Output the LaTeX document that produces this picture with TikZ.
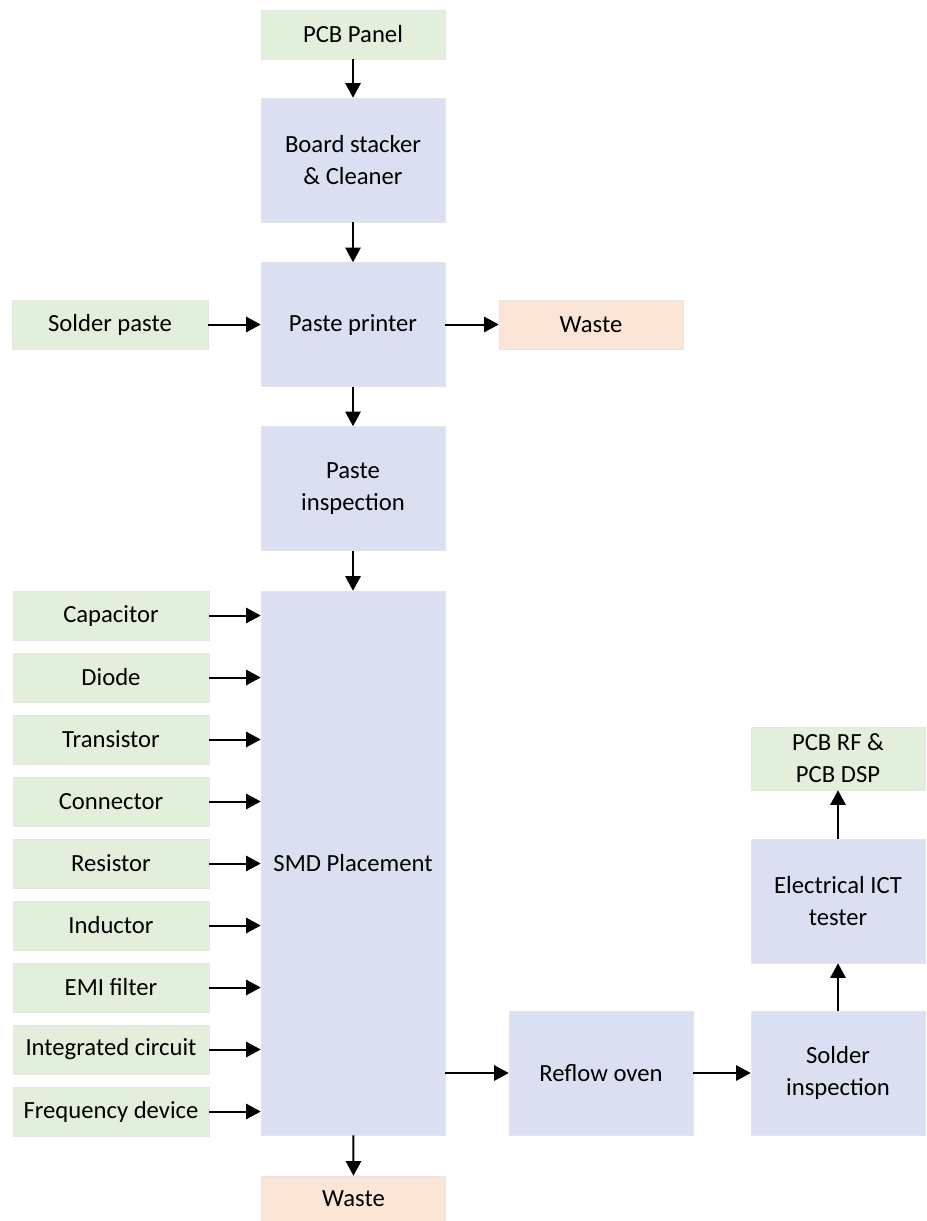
\documentclass[tikz,border=0pt]{standalone}
\usepackage{fontspec}
\setmainfont{Carlito}
\usepackage{tikz}
\usetikzlibrary{shapes,arrows.meta}
\definecolor{stepgreen}{HTML}{E2EFDA}
\definecolor{stepblue}{HTML}{DAE0F2}
\definecolor{steppeach}{HTML}{FBE5D6}

\tikzset{
  box/.style={draw=black!10, line width=0.4pt, align=center, inner sep=2pt,
    font=\fontsize{18.5}{24}\selectfont},
  machine/.style={box, fill=stepblue, minimum width=138pt, minimum height=93pt},
  supply/.style={box, fill=stepgreen, minimum width=147pt, minimum height=36.75pt},
  waste/.style={box, fill=steppeach, minimum width=138pt, minimum height=36.75pt},
  flow/.style={line width=1.5pt, -{Triangle[length=11pt,width=11.5pt]}},
}

\begin{document}
\begin{tikzpicture}[x=0.75pt, y=-0.75pt]
  \useasboundingbox (0,0) rectangle (926,1221);

  % main line
  \node[supply, minimum width=138pt] (panel) at (353,34.5) {PCB Panel};
  \node[machine] (stacker) at (353,160) {Board stacker\\\& Cleaner};
  \node[machine] (printer) at (353,324.5) {Paste printer};
  \node[supply] (paste) at (110,324.5) {Solder paste};
  \node[waste] (waste1) at (591,324.5) {Waste};
  \node[machine] (pinsp) at (353,488.5) {Paste\\inspection};
  \node[machine, minimum height=408pt] (smd) at (353,863) {SMD Placement};
  \node[waste, minimum height=33.75pt] (waste2) at (353.5,1198.5) {Waste};

  % components
  \foreach \part [count=\i] in {Capacitor, Diode, Transistor, Connector, Resistor,
      Inductor, EMI filter, Integrated circuit, Frequency device}
  {
    \node[supply] (c\i) at (111,553.5+62*\i) {\part};
    \draw[flow] (c\i.east) -- (c\i.east -| smd.west);
  }

  % back end
  \node[machine] (reflow) at (601,1073) {Reflow oven};
  \node[machine, minimum width=130.5pt] (sinsp) at (838,1073) {Solder\\inspection};
  \node[machine, minimum width=130.5pt] (ict) at (838,901) {Electrical ICT\\tester};
  \node[supply, minimum width=130.5pt, minimum height=47.25pt] (out) at (838,758.5) {PCB RF \&\\PCB DSP};

  % arrows
  \draw[flow] (panel) -- (stacker);
  \draw[flow] (stacker) -- (printer);
  \draw[flow] (paste) -- (printer);
  \draw[flow] (printer) -- (waste1);
  \draw[flow] (printer) -- (pinsp);
  \draw[flow] (pinsp) -- (smd);
  \draw[flow] (smd) -- (waste2);
  \draw[flow] (smd.east |- reflow.west) -- (reflow.west);
  \draw[flow] (reflow) -- (sinsp);
  \draw[flow] (sinsp) -- (ict);
  \draw[flow] (ict) -- (out);
\end{tikzpicture}
\end{document}
